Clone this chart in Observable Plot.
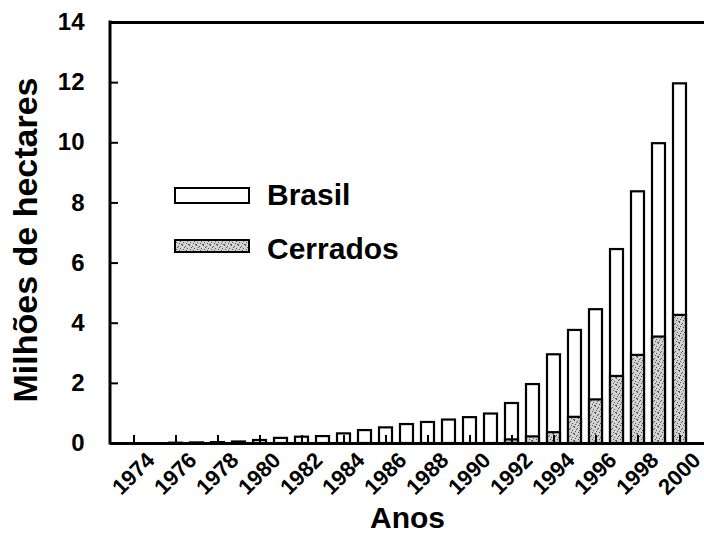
<!DOCTYPE html>
<html>
<head>
<meta charset="utf-8">
<script src="https://cdn.jsdelivr.net/npm/d3@7"></script>
<script src="https://cdn.jsdelivr.net/npm/@observablehq/plot@0.6"></script>
<style>
  body { margin: 0; background: #fff; }
  #chart { position: relative; width: 704px; height: 547px; }
</style>
</head>
<body>
<div id="chart"></div>
<script>
// Área cultivada (milhões de hectares), Brasil e Cerrados, 1974–2000
const years = [1974, 1975, 1976, 1977, 1978, 1979, 1980, 1981, 1982, 1983, 1984, 1985, 1986,
  1987, 1988, 1989, 1990, 1991, 1992, 1993, 1994, 1995, 1996, 1997, 1998, 1999, 2000];
const brasil = [0, 0, 0.01, 0.02, 0.03, 0.05, 0.1, 0.17, 0.21, 0.23, 0.32, 0.43, 0.52,
  0.63, 0.7, 0.78, 0.86, 0.98, 1.33, 1.96, 2.95, 3.76, 4.45, 6.45, 8.37, 9.97, 11.96];
const cerrados = [0, 0, 0, 0, 0, 0, 0, 0, 0, 0, 0, 0, 0,
  0, 0, 0, 0, 0, 0.12, 0.22, 0.36, 0.87, 1.45, 2.23, 2.93, 3.54, 4.26];
const yTicks = [0, 2, 4, 6, 8, 10, 12, 14];
const xTickYears = [1974, 1976, 1978, 1980, 1982, 1984, 1986, 1988, 1990, 1992, 1994, 1996, 1998, 2000];
const seriesNames = ["Brasil", "Cerrados"];

const W = 704, H = 547;
const mL = 110, mT = 22, mB = 104, mR = 0;
const plotW = W - mL - mR, plotH = H - mT - mB;
const font = "'Liberation Sans', Arial, Helvetica, sans-serif";

const rows = years.map((year, i) => ({year, brasil: brasil[i], cerrados: cerrados[i]}));

const chart = Plot.plot({
  width: W,
  height: H,
  marginLeft: mL,
  marginTop: mT,
  marginBottom: mB,
  marginRight: mR,
  style: {fontFamily: font, background: "#fff", color: "#000", overflow: "visible"},
  x: {type: "band", domain: years, paddingInner: 0.38, paddingOuter: 0.58, label: null},
  y: {domain: [0, 14], label: null},
  marks: [
    // total bars (Brasil), with the Cerrados share drawn over them
    Plot.barY(rows, {x: "year", y: "brasil", fill: "white", stroke: "black", strokeWidth: 2.2}),
    Plot.barY(rows.filter(d => d.cerrados > 0), {x: "year", y: "cerrados", fill: "url(#stipple)", stroke: "black", strokeWidth: 2.2}),
    // inward tick marks
    Plot.tickY(yTicks.filter(v => v > 0 && v < 14), {y: d => d, insetRight: plotW - 8, stroke: "black", strokeWidth: 2}),
    Plot.tickX(xTickYears, {x: d => d, insetTop: plotH - 8, stroke: "black", strokeWidth: 2}),
    // frame: bottom and top rules
    Plot.ruleY([0], {stroke: "black", strokeWidth: 3}),
    Plot.ruleY([14], {stroke: "black", strokeWidth: 3}),
    Plot.axisY({ticks: yTicks, tickSize: 0, tickPadding: 26, fontSize: 24, fontWeight: "bold", label: null}),
    Plot.axisX({ticks: xTickYears, tickSize: 0, tickPadding: 6, tickRotate: -45, fontSize: 22,
      fontWeight: "bold", dx: 17, dy: 7, tickFormat: d => String(d), label: null}),
    // axis titles
    Plot.text(["Milhões de hectares"], {frameAnchor: "left", textAnchor: "middle", dx: -84, dy: 7, rotate: -90,
      fontSize: 34, fontWeight: "bold", fill: "black"}),
    Plot.text(["Anos"], {frameAnchor: "bottom", dy: 84, fontSize: 30, fontWeight: "bold", fill: "black"})
  ]
});

document.getElementById("chart").appendChild(chart);

const svg = d3.select(chart);

// left axis line spanning the y scale's range
const yRange = chart.scale("y").range;
svg.append("line")
  .attr("x1", mL).attr("x2", mL)
  .attr("y1", yRange[0] + 1.5).attr("y2", yRange[1] - 1.5)
  .attr("stroke", "black").attr("stroke-width", 3);

// stippled fill for the Cerrados bars
const defs = svg.insert("defs", ":first-child");
const pat = defs.append("pattern")
  .attr("id", "stipple").attr("patternUnits", "userSpaceOnUse")
  .attr("width", 7).attr("height", 7);
pat.append("rect").attr("width", 7).attr("height", 7).attr("fill", "#d2d2d2");
const dots = [[0, 0], [3, 1], [5, 3], [1, 4], [4, 5], [6, 6], [2, 2], [0, 6]];
pat.selectAll("rect.d").data(dots).join("rect").attr("class", "d")
  .attr("x", d => d[0]).attr("y", d => d[1]).attr("width", 1).attr("height", 1).attr("fill", "#555");

// legend
const legend = svg.append("g").attr("font-family", font).attr("font-weight", "bold")
  .attr("font-size", 30).attr("text-anchor", "start");
const swatches = [
  {name: seriesNames[0], fill: "white", y: 188, h: 15},
  {name: seriesNames[1], fill: "url(#stipple)", y: 240, h: 12}
];
legend.selectAll("rect").data(swatches).join("rect")
  .attr("x", 175).attr("y", d => d.y).attr("width", 74).attr("height", d => d.h)
  .attr("fill", d => d.fill).attr("stroke", "black").attr("stroke-width", 2);
legend.selectAll("text").data(swatches).join("text")
  .attr("x", 267).attr("y", (d, i) => i === 0 ? 205 : 259)
  .attr("fill", "black").text(d => d.name);
</script>
</body>
</html>
